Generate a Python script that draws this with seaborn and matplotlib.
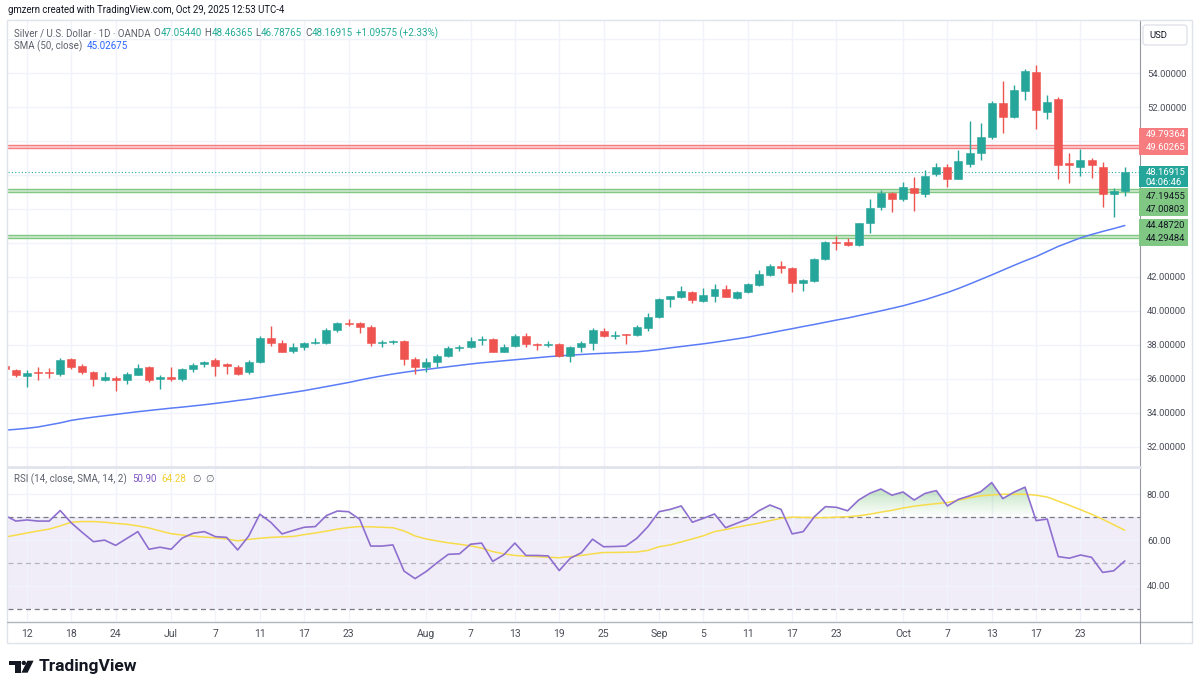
import numpy as np
import pandas as pd
import seaborn as sns
import matplotlib
matplotlib.use('Agg')
import matplotlib.pyplot as plt
from matplotlib.colors import LinearSegmentedColormap
from matplotlib.patches import Rectangle, Polygon, Circle, FancyBboxPatch
from matplotlib.path import Path
from matplotlib.ticker import FormatStrFormatter

sns.set_theme(style='white')
plt.rcParams['font.family'] = ['Roboto', 'DejaVu Sans']
plt.rcParams['axes.unicode_minus'] = False

# 일봉 데이터 (XAGUSD, OANDA)
dates = pd.bdate_range('2025-06-10', '2025-10-29')

opens = [36.75, 36.50, 36.18, 36.38, 36.38, 36.28, 37.15, 36.77, 36.40, 35.90,
         36.05, 35.92, 36.25, 36.67, 35.98, 36.10, 36.00, 36.55, 36.88, 37.10,
         36.85, 36.71, 36.40, 37.00, 38.40, 38.10, 37.65, 37.87, 38.10, 38.12,
         38.90, 39.30, 39.26, 39.06, 38.10, 38.15, 38.20, 37.15, 36.71, 36.97,
         37.36, 37.80, 37.87, 38.28, 38.33, 37.60, 37.93, 38.52, 38.02, 37.98,
         38.03, 37.36, 37.87, 38.10, 38.83, 38.50, 38.60, 38.58, 39.00, 39.66,
         40.70, 40.80, 41.13, 40.60, 40.88, 41.30, 40.75, 41.13, 41.50, 42.12,
         42.64, 42.55, 41.66, 41.78, 43.06, 44.05, 44.04, 43.88, 45.16, 46.14,
         46.93, 46.60, 47.26, 46.90, 48.05, 48.46, 47.80, 48.66, 49.32, 50.23,
         52.27, 51.44, 52.97, 54.08, 51.72, 52.50, 48.70, 48.48, 48.87, 48.50,
         46.90, 47.0544]
highs = [36.85, 36.60, 36.50, 36.70, 36.65, 37.25, 37.25, 36.85, 36.45, 36.40,
         36.15, 36.40, 36.85, 36.75, 36.20, 36.68, 36.62, 36.95, 37.05, 37.20,
         36.92, 36.80, 37.10, 38.50, 39.10, 38.30, 38.09, 38.15, 38.40, 39.00,
         39.35, 39.50, 39.35, 39.15, 38.30, 38.30, 38.30, 37.30, 37.20, 37.45,
         37.95, 38.00, 38.48, 38.50, 38.40, 38.05, 38.65, 38.70, 38.10, 38.25,
         38.10, 37.95, 38.25, 39.00, 39.00, 38.83, 38.65, 39.15, 39.90, 40.75,
         40.90, 41.45, 41.20, 41.37, 41.60, 41.50, 41.20, 41.65, 42.40, 42.75,
         42.95, 42.60, 41.90, 43.10, 44.10, 44.40, 44.30, 45.20, 46.60, 47.15,
         47.00, 47.60, 47.90, 48.30, 48.70, 48.65, 49.50, 51.20, 51.10, 52.35,
         53.56, 53.30, 54.25, 54.50, 52.75, 52.60, 49.29, 49.53, 48.98, 48.75,
         47.25, 48.46365]
lows = [36.45, 36.10, 35.50, 35.95, 36.05, 36.15, 36.60, 36.30, 35.55, 35.85,
        35.30, 35.70, 36.20, 35.80, 35.42, 35.85, 35.85, 36.40, 36.70, 36.18,
        36.30, 36.20, 36.30, 36.90, 37.95, 37.55, 37.50, 37.70, 38.02, 38.05,
        38.75, 39.10, 38.70, 37.95, 37.90, 38.02, 36.81, 36.27, 36.40, 36.70,
        37.30, 37.65, 37.80, 38.00, 37.55, 37.55, 37.85, 37.87, 37.70, 37.90,
        37.30, 36.97, 37.55, 37.70, 38.45, 38.32, 38.07, 38.50, 38.80, 39.60,
        40.20, 40.75, 40.45, 40.55, 40.55, 40.80, 40.70, 41.05, 41.45, 42.05,
        42.25, 41.13, 41.20, 41.70, 43.00, 43.60, 43.80, 43.82, 44.60, 45.95,
        45.80, 46.50, 45.90, 46.70, 47.95, 47.30, 47.75, 48.50, 48.90, 50.15,
        50.50, 51.35, 52.40, 50.70, 51.30, 47.80, 47.55, 47.96, 47.85, 46.10,
        45.55, 46.78765]
closes = [36.55, 36.22, 36.35, 36.33, 36.33, 37.09, 36.71, 36.40, 35.97, 36.12,
          35.90, 36.30, 36.65, 35.95, 36.10, 35.98, 36.57, 36.84, 36.97, 36.75,
          36.75, 36.30, 36.99, 38.40, 38.08, 37.60, 37.87, 38.10, 38.14, 38.90,
          39.27, 39.22, 39.03, 38.12, 38.16, 38.18, 37.15, 36.72, 37.00, 37.36,
          37.80, 37.85, 38.24, 38.33, 37.60, 37.87, 38.52, 38.03, 37.98, 38.02,
          37.36, 37.87, 38.13, 38.87, 38.53, 38.58, 38.56, 39.07, 39.66, 40.68,
          40.85, 41.17, 40.65, 40.96, 41.30, 40.84, 41.13, 41.60, 42.17, 42.66,
          42.50, 41.63, 41.82, 43.06, 44.04, 43.98, 43.88, 45.16, 46.04, 46.93,
          46.58, 47.28, 46.96, 47.95, 48.50, 47.80, 48.83, 49.32, 50.23, 52.27,
          51.40, 53.00, 54.15, 51.82, 52.30, 48.60, 48.62, 48.87, 48.60, 46.87,
          47.07, 48.16915]

# SMA(50) - 차트에서 읽은 값
sma50 = [32.97, 33.02, 33.08, 33.16, 33.28, 33.40, 33.55, 33.65, 33.74, 33.82,
         33.90, 33.98, 34.06, 34.13, 34.20, 34.27, 34.33, 34.40, 34.47, 34.55,
         34.63, 34.72, 34.80, 34.90, 35.00, 35.10, 35.20, 35.30, 35.42, 35.54,
         35.66, 35.78, 35.92, 36.05, 36.17, 36.28, 36.38, 36.47, 36.55, 36.63,
         36.71, 36.79, 36.87, 36.94, 37.00, 37.06, 37.12, 37.18, 37.24, 37.30,
         37.35, 37.39, 37.43, 37.47, 37.50, 37.53, 37.56, 37.59, 37.65, 37.73,
         37.82, 37.90, 37.98, 38.06, 38.15, 38.25, 38.35, 38.45, 38.58, 38.70,
         38.83, 38.95, 39.08, 39.20, 39.33, 39.46, 39.58, 39.72, 39.86, 40.00,
         40.15, 40.30, 40.48, 40.66, 40.87, 41.08, 41.32, 41.58, 41.85, 42.12,
         42.40, 42.68, 42.95, 43.20, 43.50, 43.80, 44.05, 44.30, 44.50, 44.68,
         44.85, 45.03]

# RSI(14) 및 RSI 이동평균(14)
rsi = [70.8, 68.3, 68.8, 68.3, 68.3, 72.9, 67.5, 63.3, 59.3, 60.0,
       57.7, 60.7, 63.7, 56.0, 56.9, 56.0, 60.9, 63.0, 63.7, 61.5,
       61.2, 55.7, 61.8, 71.3, 67.7, 62.7, 64.2, 65.6, 65.9, 70.7,
       72.7, 72.4, 69.1, 57.4, 57.4, 57.9, 46.5, 43.2, 46.3, 50.2,
       53.8, 54.0, 58.2, 58.7, 50.7, 53.6, 58.7, 53.3, 53.3, 53.1,
       46.7, 52.1, 54.5, 60.4, 57.1, 57.2, 57.4, 60.8, 65.9, 72.4,
       73.4, 74.9, 67.8, 69.5, 71.4, 65.4, 67.3, 69.2, 72.8, 75.3,
       73.4, 62.7, 63.7, 70.2, 74.6, 74.3, 72.8, 77.5, 80.4, 82.3,
       79.6, 81.0, 77.5, 80.4, 81.6, 74.9, 77.8, 79.3, 81.1, 85.1,
       78.1, 80.9, 83.1, 68.5, 69.2, 52.8, 52.1, 53.5, 52.5, 45.9,
       46.6, 50.9]
rsi_ma = [61.3, 62.2, 63.1, 64.0, 64.8, 66.2, 67.8, 68.1, 68.1, 67.8,
          67.3, 66.9, 66.2, 65.3, 64.0, 62.8, 62.2, 61.7, 61.3, 61.0,
          60.5, 59.7, 60.3, 60.8, 61.2, 61.4, 61.6, 62.4, 63.1, 63.9,
          64.8, 65.5, 65.9, 65.8, 65.6, 65.4, 64.0, 61.8, 60.5, 59.6,
          58.8, 58.2, 57.5, 56.5, 55.0, 54.0, 53.3, 53.0, 52.8, 52.5,
          52.3, 52.8, 53.3, 54.0, 54.6, 54.6, 54.7, 54.8, 55.5, 57.1,
          57.9, 59.2, 60.5, 61.9, 63.7, 64.6, 65.6, 66.5, 67.4, 68.5,
          69.5, 70.0, 69.9, 69.8, 69.8, 70.0, 70.2, 70.6, 71.3, 72.2,
          73.0, 74.0, 74.8, 75.4, 75.9, 76.4, 77.4, 78.5, 79.3, 79.7,
          80.0, 80.0, 80.0, 79.6, 78.8, 77.0, 75.2, 73.3, 71.3, 69.1,
          66.7, 64.3]

# 지지/저항 구간
red_zone = (49.60265, 49.79364)
green_zones = [(47.00803, 47.19455), (44.29484, 44.48720)]
last_close = 48.16915
countdown = '04:06:46'

tick_dates = ['2025-06-12', '2025-06-18', '2025-06-24', '2025-07-01', '2025-07-07',
              '2025-07-11', '2025-07-17', '2025-07-23', '2025-08-01', '2025-08-07',
              '2025-08-13', '2025-08-19', '2025-08-25', '2025-09-01', '2025-09-05',
              '2025-09-11', '2025-09-17', '2025-09-23', '2025-10-01', '2025-10-07',
              '2025-10-13', '2025-10-17', '2025-10-23']
tick_text = ['12', '18', '24', 'Jul', '7', '11', '17', '23', 'Aug', '7', '13', '19',
             '25', 'Sep', '5', '11', '17', '23', 'Oct', '7', '13', '17', '23']
price_ticks = [32, 34, 36, 38, 40, 42, 44, 46, 48, 50, 52, 54, 56]
hidden_ticks = [44, 46, 48, 50, 56]  # 가격 박스에 가려지는 눈금
rsi_ticks = [40, 60, 80]

df = pd.DataFrame({'date': dates, 'open': opens, 'high': highs, 'low': lows,
                   'close': closes, 'sma': sma50, 'rsi': rsi, 'rsi_ma': rsi_ma})
df['idx'] = np.arange(len(df))

GREEN = '#26a69a'
RED = '#ef5350'
GRID = '#f0f3fa'
TXT = '#4a4d57'
GRAY = '#5d606b'
AXFS = 6.8  # 가격축 글자 크기

W, H = 1200, 691
fig = plt.figure(figsize=(W / 100, H / 100), dpi=100)
L, R = 8, 1140
ax = fig.add_axes([L / W, 1 - 466 / H, (R - L) / W, (466 - 20) / H])
ax2 = fig.add_axes([L / W, 1 - 621 / H, (R - L) / W, (621 - 467) / H])

# 캔들
up = df['close'] >= df['open']
for sub, col in [(df[up], GREEN), (df[~up], RED)]:
    ax.vlines(sub['idx'], sub['low'], sub['high'], color=col, lw=1, zorder=4)
    body = (sub['close'] - sub['open']).abs().clip(lower=0.05)
    ax.bar(sub['idx'], body, bottom=sub[['open', 'close']].min(axis=1), width=0.72,
           color=col, edgecolor=col, lw=0.4, zorder=5)

sns.lineplot(data=df, x='idx', y='sma', ax=ax, color='#5b7cf7', lw=1.1, zorder=3, legend=False)

# 구간 표시
ax.axhspan(*red_zone, color='#f7a9ad', alpha=0.5, lw=0, zorder=2)
for v in red_zone:
    ax.axhline(v, color='#f77c80', lw=1, zorder=2)
for lo, hi in green_zones:
    ax.axhspan(lo, hi, color='#a5d6a7', alpha=0.5, lw=0, zorder=2)
    for v in (lo, hi):
        ax.axhline(v, color='#81c784', lw=1, zorder=2)
ax.axhline(last_close, color=GREEN, lw=0.8, ls=(0, (1, 2)), zorder=2)

tick_pos = [dates.get_loc(pd.Timestamp(d)) for d in tick_dates]
for a in (ax, ax2):
    a.set_xlim(0.29, 102.37)
    a.set_xticks(tick_pos)
    a.yaxis.tick_right()
    a.tick_params(axis='both', length=0)
    a.tick_params(axis='y', pad=5, labelsize=AXFS, labelcolor=TXT)
    a.grid(True, color=GRID, lw=1)
    a.set_axisbelow(True)
    a.set_xlabel('')
    a.set_ylabel('')
    for s in ['top', 'left', 'bottom']:
        a.spines[s].set_visible(False)
    a.spines['right'].set_color('#9598a1')
    a.spines['right'].set_linewidth(0.8)

ax.set_xticklabels([])
ax.set_ylim(30.86, 57.14)
ax.set_yticks(price_ticks)
ax.set_yticklabels(['' if t in hidden_ticks else '%.5f' % t for t in price_ticks])

# RSI 패널
ax2.axhspan(30, 70, color='#7e57c2', alpha=0.1, lw=0, zorder=0)
for lv, al in [(70, 1), (50, 0.5), (30, 1)]:
    ax2.axhline(lv, color='#787b86', lw=0.9, ls=(0, (4, 3)), alpha=al, zorder=1)

xs = df['idx'].to_numpy(dtype=float)
r = df['rsi'].to_numpy()
over = ax2.fill_between(xs, r, 70, where=r > 70, interpolate=True, color='none', lw=0)
clip = Path.make_compound_path(*over.get_paths())
grad = np.linspace(0, 1, 200).reshape(-1, 1)
cmap = LinearSegmentedColormap.from_list('rsi_up', [(0.3, 0.69, 0.31, 0.0), (0.3, 0.69, 0.31, 0.55)])
im = ax2.imshow(grad, extent=(xs[0], xs[-1], 70, 90), origin='lower', aspect='auto',
                cmap=cmap, zorder=2, interpolation='bilinear')
im.set_clip_path(clip, ax2.transData)

sns.lineplot(data=df, x='idx', y='rsi_ma', ax=ax2, color='#f7dc4a', lw=1.1, zorder=3, legend=False)
sns.lineplot(data=df, x='idx', y='rsi', ax=ax2, color='#8e6fd0', lw=1.2, zorder=4, legend=False)
ax2.set_xlim(0.29, 102.37)
ax2.set_ylim(24.7, 91.9)
ax2.set_yticks(rsi_ticks)
ax2.yaxis.set_major_formatter(FormatStrFormatter('%.2f'))
ax2.set_xticklabels(tick_text)
ax2.tick_params(axis='x', labelsize=7.5, labelcolor=TXT, pad=6)
ax2.set_xlabel('')
ax2.set_ylabel('')
ax2.spines['top'].set_visible(True)
ax2.spines['top'].set_color('#e0e3eb')
ax2.spines['top'].set_linewidth(2)

# 픽셀 좌표 오버레이
ov = fig.add_axes([0, 0, 1, 1])
ov.set_xlim(0, W)
ov.set_ylim(H, 0)
ov.axis('off')
ov.patch.set_visible(False)

ov.add_patch(Rectangle((7, 20), 1185, 623, fill=False, ec='#e0e3eb', lw=1))
ov.plot([7, 1192], [621.5, 621.5], color='#b2b5be', lw=1)
ov.plot([1140, 1140], [621, 643], color='#9598a1', lw=0.8)

renderer = fig.canvas.get_renderer()


def parts(x, y, items, size, weight='normal'):
    for s, c, gap in items:
        t = ov.text(x, y, s, color=c, fontsize=size, va='center', ha='left', fontweight=weight)
        x += t.get_window_extent(renderer).width + gap


def py(axis, v):
    return ov.transData.inverted().transform(axis.transData.transform((0, v)))[1]


TEAL = '#22ab94'
parts(8, 10, [('gmzern created with TradingView.com, Oct 29, 2025 12:53 UTC-4', '#131722', 0)], 6.9)
parts(14, 33, [('Silver / U.S. Dollar · 1D · OANDA', GRAY, 3),
               ('O', GRAY, 0), ('47.05440', TEAL, 3),
               ('H', GRAY, 0), ('48.46365', TEAL, 3),
               ('L', GRAY, 0), ('46.78765', TEAL, 3),
               ('C', GRAY, 0), ('48.16915', TEAL, 3),
               ('+1.09575 (+2.33%)', TEAL, 0)], 7.0)
parts(14, 46, [('SMA (50, close)', GRAY, 4), ('45.02675', '#2962ff', 0)], 7.0)
parts(14, 479, [('RSI (14, close, SMA, 14, 2)', GRAY, 5), ('50.90', '#7e57c2', 5),
                ('64.28', '#f2cf2f', 6), ('∅', GRAY, 5), ('∅', GRAY, 0)], 7.0)

# USD 박스
ov.add_patch(FancyBboxPatch((1143, 25), 44, 20, boxstyle='round,pad=0,rounding_size=3',
                            ec='#e0e3eb', fc='white', lw=1))
ov.text(1149, 35.5, 'USD', fontsize=6.8, color='#131722', va='center')


def price_box(lines, face, tc, top, bottom):
    ov.add_patch(Rectangle((1139, top), 49, bottom - top, color=face, lw=0))
    for s, yy in lines:
        ov.text(1145.5, yy, s, color=tc, fontsize=AXFS, va='center')


y1 = py(ax, red_zone[0])
price_box([('%.5f' % red_zone[1], y1 - 13), ('%.5f' % red_zone[0], y1)], '#f77c80', 'white', y1 - 20, y1 + 7)
y0 = py(ax, last_close)
price_box([('%.5f' % last_close, y0), (countdown, y0 + 10.5)], GREEN, 'white', y0 - 6.7, y0 + 14.5)
y0 = py(ax, green_zones[0][1])
price_box([('%.5f' % green_zones[0][1], y0 + 7.7), ('%.5f' % green_zones[0][0], y0 + 20.7)],
          '#81c784', '#131722', y0 - 0.3, y0 + 27)
y0 = py(ax, green_zones[1][0])
price_box([('%.5f' % green_zones[1][1], y0 - 12), ('%.5f' % green_zones[1][0], y0 + 1)],
          '#81c784', '#131722', y0 - 19, y0 + 8)

# TradingView 로고
ov.add_patch(Polygon([(9.3, 660.7), (20.7, 660.7), (20.7, 672.7), (14.8, 672.7), (14.8, 665.2), (9.3, 665.2)],
                     color='#131722', lw=0))
ov.add_patch(Circle((23.8, 662.9), 2.2, color='#131722', lw=0))
ov.add_patch(Polygon([(27.4, 660.7), (33.6, 660.7), (27.6, 672.7), (21.4, 672.7)], color='#131722', lw=0))
ov.text(38.5, 667, 'TradingView', fontsize=12.5, fontweight='bold', color='#131722', va='center')

fig.savefig('out.png', dpi=100, facecolor='white')
